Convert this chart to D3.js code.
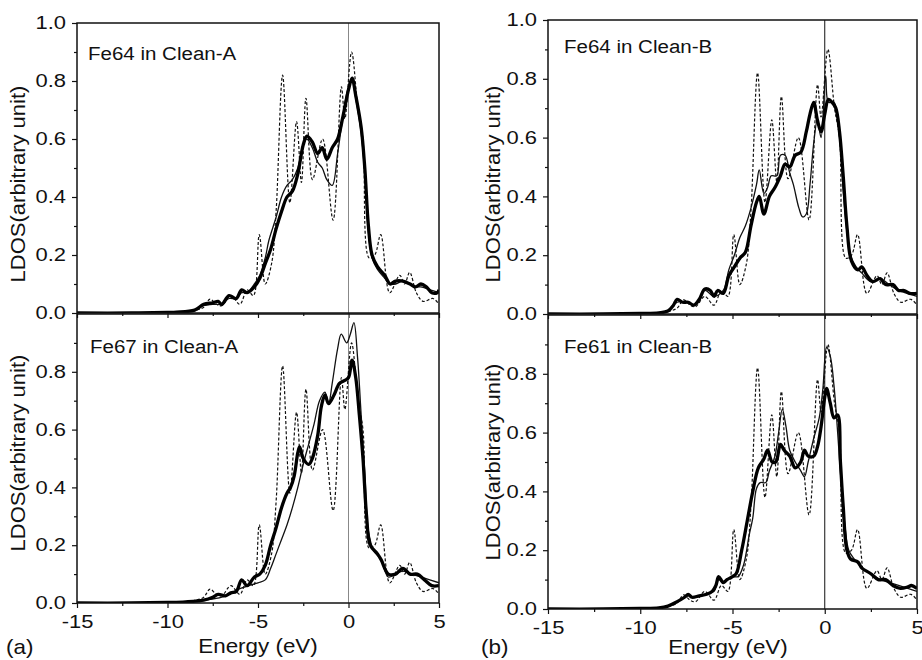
<!DOCTYPE html>
<html>
<head>
<meta charset="utf-8">
<script src="https://cdn.jsdelivr.net/npm/d3@7"></script>
<style>
  body { margin: 0; background: #fff; }
  text { font-family: "Liberation Sans", Arial, sans-serif; fill: #111; }
</style>
</head>
<body>
<svg id="chart" width="922" height="660"></svg>
<script>
// reference curve (dashed), same in every panel
const dashedRef = [[-15,0],[-12,0],[-10,0.002],[-9,0.005],[-8.4,0.01],[-8.0,0.02],[-7.65,0.048],[-7.3,0.03],[-7.0,0.025],
  [-6.5,0.06],[-6.0,0.03],[-5.6,0.08],[-5.25,0.06],[-4.93,0.27],[-4.6,0.1],[-4.25,0.17],[-4.0,0.35],[-3.64,0.82],
  [-3.24,0.38],[-2.87,0.66],[-2.6,0.45],[-2.35,0.74],[-1.99,0.46],[-1.43,0.6],[-0.85,0.32],[-0.39,0.78],[-0.2,0.67],
  [0.17,0.9],[0.53,0.7],[0.8,0.6],[1.14,0.19],[1.45,0.2],[1.78,0.27],[2.28,0.07],[2.83,0.13],[3.1,0.1],[3.38,0.14],
  [3.75,0.07],[4.12,0.04],[4.67,0.05],[5,0.03]];

// Fe64 in Clean-A
const fe64AThick = [[-15,0],[-12,0],[-10,0.002],[-9.5,0.003],[-8.5,0.01],[-8.0,0.03],[-7.5,0.035],[-7.2,0.04],[-7.0,0.03],
  [-6.6,0.06],[-6.2,0.05],[-5.9,0.08],[-5.6,0.07],[-5.2,0.09],[-4.9,0.12],[-4.6,0.17],[-4.3,0.22],[-4.0,0.29],[-3.7,0.35],
  [-3.4,0.4],[-3.1,0.42],[-2.8,0.48],[-2.5,0.58],[-2.3,0.61],[-2.0,0.59],[-1.7,0.55],[-1.45,0.57],[-1.2,0.53],[-0.9,0.57],
  [-0.6,0.6],[-0.3,0.68],[0,0.77],[0.2,0.81],[0.4,0.75],[0.7,0.64],[0.9,0.5],[1.1,0.3],[1.3,0.2],[1.6,0.16],[2.0,0.13],
  [2.3,0.1],[2.6,0.11],[3.0,0.11],[3.4,0.1],[3.7,0.09],[4.0,0.1],[4.3,0.09],[4.6,0.07],[4.9,0.07],[5,0.08]];
const fe64AThin = [[-15,0],[-12,0],[-10,0.002],[-9.5,0.003],[-8.5,0.01],[-8.0,0.025],[-7.5,0.03],[-7.0,0.03],[-6.6,0.05],
  [-6.2,0.05],[-5.9,0.07],[-5.6,0.07],[-5.2,0.1],[-4.9,0.13],[-4.6,0.19],[-4.4,0.25],[-4.0,0.33],[-3.7,0.4],[-3.4,0.44],
  [-3.1,0.46],[-2.8,0.5],[-2.5,0.58],[-2.3,0.6],[-2.0,0.57],[-1.7,0.52],[-1.45,0.5],[-1.2,0.46],[-0.9,0.44],[-0.6,0.55],
  [-0.3,0.68],[0,0.78],[0.2,0.8],[0.4,0.74],[0.7,0.62],[0.9,0.48],[1.1,0.28],[1.3,0.19],[1.6,0.15],[2.0,0.12],[2.3,0.1],
  [2.6,0.1],[3.0,0.11],[3.4,0.1],[3.7,0.09],[4.0,0.09],[4.5,0.08],[5,0.07]];

// Fe67 in Clean-A
const fe67AThick = [[-15,0],[-12,0],[-10,0.002],[-9,0.004],[-8,0.01],[-7.5,0.02],[-7.2,0.03],[-6.8,0.025],[-6.5,0.035],
  [-6.2,0.04],[-5.9,0.08],[-5.6,0.06],[-5.2,0.09],[-4.9,0.1],[-4.6,0.13],[-4.3,0.2],[-4.0,0.26],[-3.7,0.33],[-3.4,0.38],
  [-3.2,0.4],[-3.0,0.44],[-2.8,0.52],[-2.7,0.54],[-2.5,0.5],[-2.2,0.48],[-2.0,0.5],[-1.7,0.58],[-1.5,0.68],[-1.3,0.72],
  [-1.1,0.69],[-0.8,0.72],[-0.5,0.76],[-0.2,0.77],[0,0.78],[0.2,0.84],[0.4,0.78],[0.6,0.65],[0.8,0.5],[1.0,0.3],
  [1.2,0.2],[1.6,0.17],[1.8,0.15],[2.2,0.1],[2.6,0.1],[3.0,0.12],[3.4,0.1],[3.8,0.1],[4.2,0.08],[4.6,0.06],[5,0.06]];
const fe67AThin = [[-15,0],[-12,0],[-10,0.002],[-9,0.004],[-8,0.01],[-7,0.02],[-6,0.05],[-5.5,0.06],[-5.0,0.07],
  [-4.6,0.08],[-4.3,0.12],[-4.0,0.17],[-3.7,0.22],[-3.4,0.27],[-3.1,0.33],[-2.8,0.4],[-2.5,0.48],[-2.2,0.55],[-1.9,0.62],
  [-1.6,0.7],[-1.3,0.73],[-1.1,0.69],[-0.9,0.76],[-0.6,0.88],[-0.4,0.93],[-0.1,0.9],[0.1,0.93],[0.3,0.97],[0.5,0.85],
  [0.7,0.65],[0.9,0.45],[1.1,0.25],[1.4,0.18],[1.8,0.15],[2.2,0.09],[2.6,0.1],[3.0,0.11],[3.5,0.1],[4,0.09],[5,0.07]];

// Fe64 in Clean-B
const fe64BThick = [[-15,0],[-12,0],[-10,0.002],[-9,0.004],[-8.5,0.01],[-8.2,0.03],[-8.0,0.05],[-7.7,0.04],[-7.4,0.04],
  [-7.1,0.03],[-6.8,0.05],[-6.5,0.085],[-6.2,0.08],[-6.0,0.06],[-5.8,0.08],[-5.5,0.07],[-5.2,0.13],[-4.9,0.16],
  [-4.6,0.19],[-4.3,0.21],[-4.0,0.3],[-3.7,0.38],[-3.55,0.4],[-3.3,0.34],[-3.0,0.4],[-2.7,0.43],[-2.4,0.47],[-2.15,0.51],
  [-1.9,0.5],[-1.6,0.54],[-1.3,0.55],[-1.0,0.62],[-0.8,0.68],[-0.6,0.72],[-0.4,0.66],[-0.2,0.62],[0,0.68],[0.2,0.73],
  [0.4,0.72],[0.6,0.7],[0.8,0.62],[1.0,0.47],[1.2,0.3],[1.45,0.18],[1.8,0.15],[2.0,0.16],[2.3,0.13],[2.6,0.11],
  [3.0,0.12],[3.3,0.1],[3.7,0.1],[4.0,0.08],[4.3,0.08],[4.6,0.07],[5,0.07]];
const fe64BThin = [[-15,0],[-12,0],[-10,0.002],[-9,0.004],[-8.5,0.01],[-8.0,0.04],[-7.5,0.04],[-7,0.03],[-6.5,0.08],
  [-6,0.06],[-5.5,0.08],[-5.2,0.15],[-4.9,0.2],[-4.6,0.26],[-4.3,0.3],[-4.0,0.36],[-3.7,0.44],[-3.55,0.49],[-3.3,0.41],
  [-3.1,0.43],[-2.9,0.47],[-2.6,0.47],[-2.4,0.54],[-2.15,0.54],[-1.9,0.48],[-1.7,0.44],[-1.4,0.36],[-1.2,0.33],
  [-1.0,0.34],[-0.8,0.44],[-0.6,0.58],[-0.4,0.66],[-0.2,0.6],[0.05,0.81],[0.2,0.72],[0.5,0.72],[0.8,0.6],[1.0,0.42],
  [1.2,0.28],[1.4,0.2],[1.7,0.16],[2.0,0.14],[2.5,0.11],[3.0,0.12],[3.5,0.1],[4,0.08],[4.5,0.07],[5,0.06]];

// Fe61 in Clean-B
const fe61BThick = [[-15,0],[-12,0],[-10,0.002],[-9,0.004],[-8.5,0.01],[-8.0,0.025],[-7.6,0.04],[-7.4,0.05],[-7.2,0.04],
  [-6.8,0.045],[-6.4,0.05],[-6.1,0.06],[-5.9,0.08],[-5.75,0.11],[-5.5,0.09],[-5.3,0.1],[-5.0,0.11],[-4.8,0.12],
  [-4.5,0.2],[-4.2,0.3],[-3.9,0.4],[-3.6,0.48],[-3.3,0.51],[-3.1,0.54],[-2.85,0.5],[-2.65,0.5],[-2.4,0.56],[-2.2,0.54],
  [-1.9,0.52],[-1.6,0.48],[-1.3,0.5],[-1.1,0.54],[-0.9,0.52],[-0.6,0.52],[-0.4,0.55],[-0.2,0.62],[0,0.72],[0.1,0.75],
  [0.3,0.7],[0.5,0.65],[0.7,0.66],[0.85,0.5],[1.0,0.35],[1.2,0.2],[1.4,0.17],[1.8,0.16],[2.0,0.14],[2.5,0.12],
  [2.9,0.1],[3.3,0.1],[3.7,0.08],[4.1,0.07],[4.5,0.075],[4.7,0.08],[5,0.07]];
const fe61BThin = [[-15,0],[-12,0],[-10,0.002],[-9,0.004],[-8.5,0.01],[-8.0,0.025],[-7.6,0.04],[-7.4,0.045],[-7.0,0.04],
  [-6.5,0.05],[-6.0,0.06],[-5.75,0.1],[-5.5,0.09],[-5.0,0.11],[-4.7,0.11],[-4.4,0.15],[-4.1,0.25],[-3.9,0.31],
  [-3.7,0.41],[-3.5,0.43],[-3.2,0.43],[-3.0,0.47],[-2.7,0.52],[-2.5,0.6],[-2.3,0.68],[-2.1,0.62],[-1.9,0.54],[-1.6,0.5],
  [-1.3,0.47],[-1.1,0.45],[-0.9,0.5],[-0.6,0.58],[-0.3,0.65],[-0.1,0.75],[0.1,0.89],[0.3,0.86],[0.5,0.76],[0.7,0.6],
  [0.9,0.42],[1.1,0.28],[1.3,0.2],[1.6,0.17],[2,0.14],[2.5,0.12],[3,0.1],[3.5,0.09],[4,0.08],[4.5,0.07],[5,0.06]];

const panelLabels = ["Fe64 in Clean-A", "Fe67 in Clean-A", "Fe64 in Clean-B", "Fe61 in Clean-B"];
const xMajorTicks = [-15, -10, -5, 0, 5];
const xMinorTicks = [-12.5, -7.5, -2.5, 2.5];
const yMinorTicks = [0.1, 0.3, 0.5, 0.7, 0.9];
const xTitle = "Energy (eV)";
const yTitle = "LDOS(arbitrary unit)";

const svg = d3.select("#chart");
const tickStretch = "scale(1.22,1)";

const panels = [
  { id: 0, left: 77, right: 439, top: 23, bottom: 313, thick: fe64AThick, thin: fe64AThin, yLabels: [0,0.2,0.4,0.6,0.8,1.0], xLabels: false, zeroColor: "#888", lab: [88, 60] },
  { id: 1, left: 77, right: 439, top: 314, bottom: 603, thick: fe67AThick, thin: fe67AThin, yLabels: [0,0.2,0.4,0.6,0.8], xLabels: true, zeroColor: "#888", lab: [90, 353] },
  { id: 2, left: 548, right: 917, top: 20, bottom: 314, thick: fe64BThick, thin: fe64BThin, yLabels: [0,0.2,0.4,0.6,0.8,1.0], xLabels: false, zeroColor: "#111", lab: [564, 53] },
  { id: 3, left: 548, right: 917, top: 315, bottom: 609, thick: fe61BThick, thin: fe61BThin, yLabels: [0,0.2,0.4,0.6,0.8], xLabels: true, zeroColor: "#111", lab: [564, 353] }
];

panels.forEach((p) => {
  const x = d3.scaleLinear().domain([-15, 5]).range([p.left, p.right]);
  const y = d3.scaleLinear().domain([0, 1]).range([p.bottom, p.top]);

  svg.append("clipPath").attr("id", `clip${p.id}`)
    .append("rect").attr("x", p.left).attr("y", p.top)
    .attr("width", p.right - p.left).attr("height", p.bottom - p.top);

  const g = svg.append("g");
  const plot = g.append("g").attr("clip-path", `url(#clip${p.id})`);

  // zero energy line
  plot.append("line")
    .attr("x1", x(0)).attr("x2", x(0)).attr("y1", p.top).attr("y2", p.bottom)
    .style("stroke", p.zeroColor).style("stroke-width", 1);

  const line = d3.line()
    .x((d) => x(d[0]))
    .y((d) => y(d[1]))
    .curve(d3.curveCatmullRom.alpha(0.5));

  plot.append("path").datum(dashedRef).attr("d", line)
    .style("fill", "none").style("stroke", "#111").style("stroke-width", 1.2)
    .style("stroke-dasharray", "3,2");
  plot.append("path").datum(p.thin).attr("d", line)
    .style("fill", "none").style("stroke", "#111").style("stroke-width", 1.3);
  plot.append("path").datum(p.thick).attr("d", line)
    .style("fill", "none").style("stroke", "#000").style("stroke-width", 3.3)
    .style("stroke-linejoin", "round");

  // y axis
  const yAxis = g.append("g").attr("transform", `translate(${p.left},0)`)
    .call(d3.axisLeft(y).tickValues(p.yLabels).tickSize(5).tickPadding(4).tickFormat(d3.format(".1f")));
  yAxis.selectAll("text").style("font-size", "18px").attr("transform", tickStretch);
  const yMinor = g.append("g").attr("transform", `translate(${p.left},0)`)
    .call(d3.axisLeft(y).tickValues(yMinorTicks).tickSize(3).tickFormat(""));

  // x axis
  const xAxis = g.append("g").attr("transform", `translate(0,${p.bottom})`)
    .call(d3.axisBottom(x).tickValues(xMajorTicks).tickSize(5).tickPadding(7)
      .tickFormat(p.xLabels ? (d) => String(d) : ""));
  xAxis.selectAll("text").style("font-size", "18px").attr("transform", tickStretch);
  const xMinor = g.append("g").attr("transform", `translate(0,${p.bottom})`)
    .call(d3.axisBottom(x).tickValues(xMinorTicks).tickSize(3).tickFormat(""));

  [yAxis, yMinor, xAxis, xMinor].forEach((a) => {
    a.select(".domain").remove();
    a.selectAll("line").style("stroke", "#111").style("stroke-width", 1.2);
  });

  // frame
  g.append("rect")
    .attr("x", p.left).attr("y", p.top)
    .attr("width", p.right - p.left).attr("height", p.bottom - p.top)
    .style("fill", "none").style("stroke", "#111").style("stroke-width", 1.5);

  g.append("text")
    .attr("transform", `translate(${p.lab[0]},${p.lab[1]}) scale(1.08,1)`)
    .style("font-size", "19px")
    .text(panelLabels[p.id]);
});

// axis titles
[[25, 184], [25, 453], [500, 184], [500, 462]].forEach(([cx, cy]) => {
  svg.append("text")
    .attr("transform", `translate(${cx},${cy}) rotate(-90) scale(1.1,1)`)
    .attr("text-anchor", "middle")
    .style("font-size", "20px")
    .text(yTitle);
});
[[258, 653], [728, 654]].forEach(([cx, cy]) => {
  svg.append("text")
    .attr("transform", `translate(${cx},${cy}) scale(1.12,1)`)
    .attr("text-anchor", "middle")
    .style("font-size", "20px")
    .text(xTitle);
});
svg.append("text").attr("transform", "translate(6,654) scale(1.12,1)").style("font-size", "20px").text("(a)");
svg.append("text").attr("transform", "translate(481,654) scale(1.12,1)").style("font-size", "20px").text("(b)");
</script>
</body>
</html>
